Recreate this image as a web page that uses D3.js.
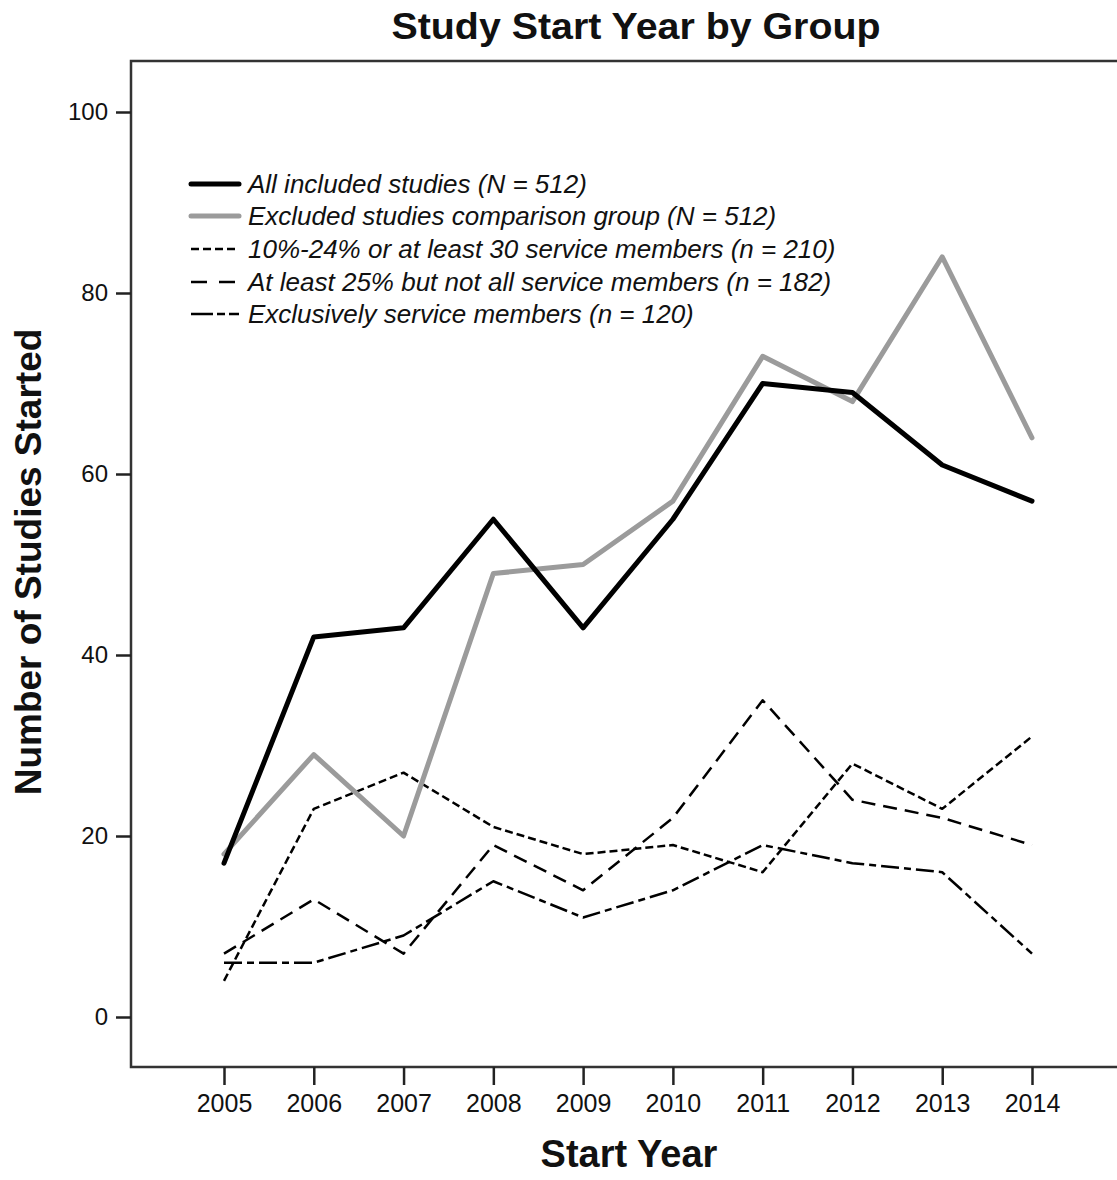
<!DOCTYPE html>
<html><head><meta charset="utf-8">
<script src="https://cdn.jsdelivr.net/npm/d3@7"></script>
<style>
html,body{margin:0;padding:0;background:#fff;}
text{font-family:"Liberation Sans",Arial,Helvetica,sans-serif;}
</style></head>
<body><svg id="chart" width="1117" height="1180"></svg>
<script>
const years = [2005,2006,2007,2008,2009,2010,2011,2012,2013,2014];
const allIncluded   = [17,42,43,55,43,55,70,69,61,57];
const excluded      = [18,29,20,49,50,57,73,68,84,64];
const pct10to24     = [4,23,27,21,18,19,16,28,23,31];
const atLeast25     = [7,13,7,19,14,22,35,24,22,19];
const exclusively   = [6,6,9,15,11,14,19,17,16,7];
const yTicks = [0,20,40,60,80,100];
const seriesNames = [
  "All included studies (N = 512)",
  "Excluded studies comparison group (N = 512)",
  "10%-24% or at least 30 service members (n = 210)",
  "At least 25% but not all service members (n = 182)",
  "Exclusively service members (n = 120)"
];
const seriesValues = [allIncluded, excluded, pct10to24, atLeast25, exclusively];
const styles = [
  {stroke:"#000", width:5, dash:null, legendDash:null, cap:"round"},
  {stroke:"#9b9b9b", width:5, dash:null, legendDash:null, cap:"round"},
  {stroke:"#000", width:2.5, dash:"8,4", legendDash:"8,4", cap:"butt"},
  {stroke:"#000", width:2.5, dash:"14,8", legendDash:"16,12", cap:"butt"},
  {stroke:"#000", width:2.5, dash:"18,5,7,5", legendDash:"22,4,8,4", cap:"butt"}
];

const svg = d3.select("#chart");
const L = 131, T = 61, R = 1117, B = 1067;
const x = d3.scaleLinear().domain([2005,2014]).range([224,1032]);
const y = d3.scaleLinear().domain([0,100]).range([1017,112]);

// frame
svg.append("path").attr("d",`M${R},${T}H${L}V${B}H${R}`)
  .attr("fill","none").attr("stroke","#333").attr("stroke-width",2.5);

// y axis
const yAxis = svg.append("g").attr("transform",`translate(${L},0)`)
  .call(d3.axisLeft(y).tickValues(yTicks).tickSize(15).tickPadding(8).tickFormat(d3.format("d")));
yAxis.select(".domain").remove();
yAxis.selectAll(".tick line").attr("stroke","#222").attr("stroke-width",2.5);
yAxis.selectAll(".tick text").attr("font-size",24).attr("fill","#111")
  .attr("font-family","Liberation Sans, Arial, sans-serif");

// x axis
const xAxis = svg.append("g").attr("transform",`translate(0,${B})`)
  .call(d3.axisBottom(x).tickValues(years).tickSize(18).tickPadding(9).tickFormat(d3.format("d")));
xAxis.select(".domain").remove();
xAxis.selectAll(".tick line").attr("stroke","#222").attr("stroke-width",2.5);
xAxis.selectAll(".tick text").attr("font-size",25).attr("fill","#111")
  .attr("font-family","Liberation Sans, Arial, sans-serif");

// lines (draw dashed first, then gray, then black)
const line = d3.line().x((d,i)=>x(years[i])).y(d=>y(d));
const order = [4,3,2,1,0];
order.forEach(k=>{
  const s = styles[k];
  svg.append("path").datum(seriesValues[k])
    .attr("d",line).attr("fill","none")
    .attr("stroke",s.stroke).attr("stroke-width",s.width)
    .attr("stroke-dasharray",s.dash).attr("stroke-linecap",s.cap)
    .attr("stroke-linejoin","round");
});

// legend
const lg = svg.append("g");
const rowY = [184,216,249,282,314];
seriesNames.forEach((name,i)=>{
  const s = styles[i];
  lg.append("line").attr("x1",191).attr("x2",239).attr("y1",rowY[i]).attr("y2",rowY[i])
    .attr("stroke",s.stroke).attr("stroke-width",s.width)
    .attr("stroke-dasharray",s.legendDash)
    .attr("stroke-linecap",s.cap);
  lg.append("text").attr("x",248).attr("y",rowY[i]+9).attr("font-size",26)
    .attr("font-style","italic").attr("fill","#111").text(name);
});

// titles
svg.append("text").attr("x",636).attr("y",39).attr("text-anchor","middle")
  .attr("font-size",37).attr("font-weight","bold").attr("fill","#111")
  .attr("textLength",489).attr("lengthAdjust","spacingAndGlyphs")
  .text("Study Start Year by Group");
svg.append("text").attr("x",629).attr("y",1167).attr("text-anchor","middle")
  .attr("font-size",38).attr("font-weight","bold").attr("fill","#111")
  .text("Start Year");
svg.append("text").attr("transform","translate(41,562) rotate(-90)").attr("text-anchor","middle")
  .attr("font-size",37).attr("font-weight","bold").attr("fill","#111")
  .text("Number of Studies Started");
</script></body></html>
